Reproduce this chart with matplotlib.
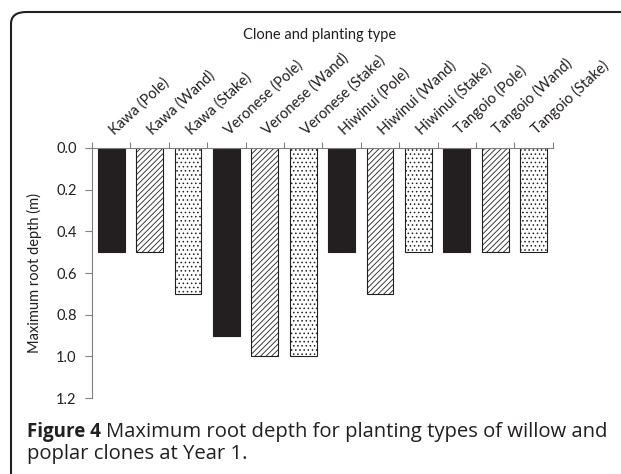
import numpy as np
import matplotlib.pyplot as plt
from matplotlib.patches import FancyBboxPatch
from matplotlib.transforms import offset_copy

plt.rcParams['font.family'] = ['Lato', 'DejaVu Sans']
plt.rcParams['hatch.linewidth'] = 0.6

categories = ['Kawa (Pole)', 'Kawa (Wand)', 'Kawa (Stake)',
              'Veronese (Pole)', 'Veronese (Wand)', 'Veronese (Stake)',
              'Hiwinui (Pole)', 'Hiwinui (Wand)', 'Hiwinui (Stake)',
              'Tangoio (Pole)', 'Tangoio (Wand)', 'Tangoio (Stake)']
depth = [0.5, 0.5, 0.7, 0.9, 1.0, 1.0, 0.5, 0.7, 0.5, 0.5, 0.5, 0.5]
planting = ['Pole', 'Wand', 'Stake'] * 4
yticks = [0.0, 0.2, 0.4, 0.6, 0.8, 1.0, 1.2]

INK = '#231f20'
style = {'Pole': dict(color=INK, hatch=None),
         'Wand': dict(color='white', hatch='//////'),
         'Stake': dict(color='white', hatch='....')}

fig = plt.figure(figsize=(6.21, 4.74), dpi=100)
ax = fig.add_axes([92 / 621, 0.160, 0.742, 0.528])

x = np.arange(len(categories))
for i, (d, p) in enumerate(zip(depth, planting)):
    s = style[p]
    ax.bar(x[i], d, width=0.70, color=s['color'], hatch=s['hatch'],
           edgecolor=INK, linewidth=0.8, align='center')

ax.set_xlim(-0.5, len(categories) - 0.5)
ax.set_ylim(1.2, 0.0)
ax.set_yticks(yticks)
ax.set_yticklabels(['%.1f' % v for v in yticks], fontsize=10.5, color=INK)
ax.set_ylabel('Maximum root depth (m)', fontsize=10.5, color=INK, labelpad=10)

ax.xaxis.tick_top()
ax.set_xticks(np.arange(-0.5, len(categories), 1.0))
ax.set_xticklabels([])
ax.tick_params(axis='x', which='major', length=4, color='#808080', direction='out')
ax.tick_params(axis='y', length=5, color='#808080', direction='out', pad=6)

# rotated category labels, text starts above the bar centre
trans = offset_copy(ax.get_xaxis_transform(), fig=fig, x=0, y=13, units='dots')
for xi, name in zip(x, categories):
    ax.text(xi + 0.08, 1.0, name, transform=trans, rotation=43,
            rotation_mode='anchor', ha='left', va='baseline',
            fontsize=10.5, color=INK)

for side in ['bottom', 'right']:
    ax.spines[side].set_visible(False)
for side in ['top', 'left']:
    ax.spines[side].set_color('#808080')
    ax.spines[side].set_linewidth(0.8)

fig.text(0.515, 1 - 35 / 474, 'Clone and planting type', ha='center', va='center',
         fontsize=10.5, color=INK)

frame = FancyBboxPatch((11 / 621, -0.1), 1.2, 0.1 + (474 - 12) / 474,
                       boxstyle='round,pad=0,rounding_size=0.025',
                       transform=fig.transFigure, facecolor='none',
                       edgecolor=INK, linewidth=1.5)
fig.patches.append(frame)

cap_font = ['Open Sans', 'DejaVu Sans']
cap_x = 27 / 621
bold = fig.text(cap_x, 1 - 432 / 474, 'Figure 4', ha='left', va='center',
                fontsize=13.5, fontweight='bold', color=INK, family=cap_font)
fig.canvas.draw()
bb = bold.get_window_extent()
fig.text((bb.x1 + 5) / 621, 1 - 432 / 474,
         'Maximum root depth for planting types of willow and',
         ha='left', va='center', fontsize=14.6, color=INK, family=cap_font)
fig.text(cap_x, 1 - 454 / 474, 'poplar clones at Year 1.', ha='left', va='center',
         fontsize=14.6, color=INK, family=cap_font)

fig.savefig('out.png', dpi=100)
